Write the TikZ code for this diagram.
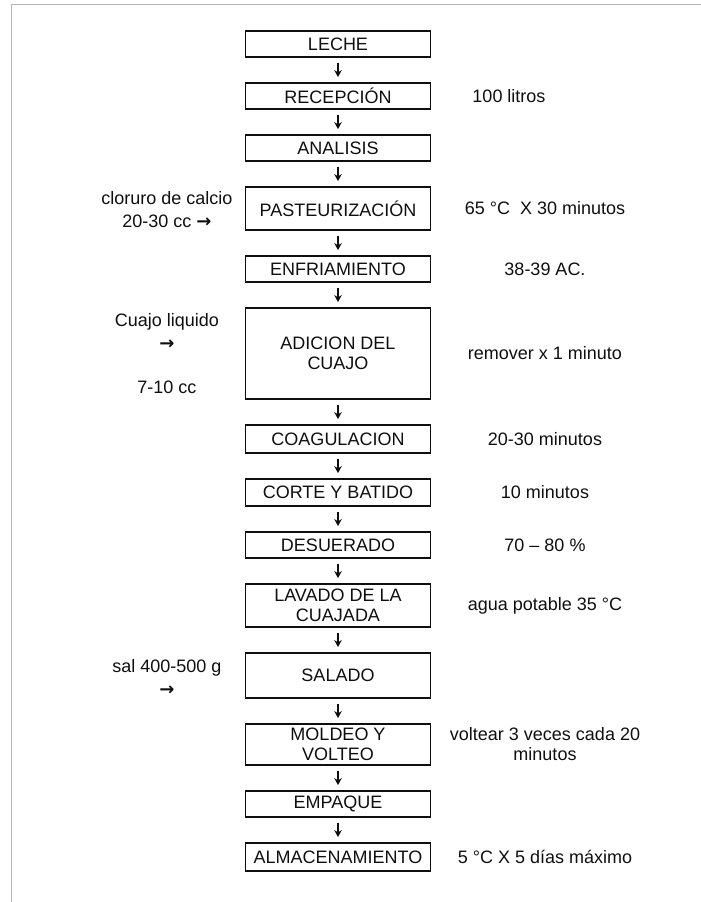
\documentclass[tikz,border=0pt]{standalone}
\usepackage{fontspec}
\usepackage{tikz}
\usepackage{xcolor}
\setmainfont{Liberation Sans}
\newfontfamily\arrowfont{DejaVu Sans Bold}
\usetikzlibrary{positioning,arrows.meta}
\definecolor{flowink}{RGB}{15,15,15}
\definecolor{framegray}{RGB}{182,182,182}

\begin{document}
\begin{tikzpicture}[
      x=1pt, y=-1pt,
      node distance=24.2pt,
      box/.style={draw=flowink, line width=1.8pt, text=flowink, align=center, minimum width=185pt, minimum height=26pt, inner sep=1pt, font=\fontsize{18}{20}\selectfont},
      arrow/.style={-{Stealth[length=7pt,width=7.5pt]}, line width=1.8pt, draw=flowink, shorten <=5pt, shorten >=5pt},
      note/.style={text=flowink, align=center, inner sep=0pt, font=\fontsize{18}{20}\selectfont},
      side/.style={note, font=\fontsize{18}{23}\selectfont}
    ]
      \useasboundingbox (0,0) rectangle (701,902);
      \draw[framegray, line width=1pt] (11.5,902) -- (11.5,4.5) -- (701,4.5);
      \coordinate (rcol) at (545,0);
      \coordinate (rcolb) at (509,0);
      \coordinate (lcol) at (167,0);
      % main column
      \node[box] (leche) at (338,44) {LECHE};
      \node[box, below=of leche] (recep) {RECEPCIÓN};
      \node[box, below=of recep] (anal) {ANALISIS};
      \node[box, minimum height=43pt, below=of anal] (paste) {PASTEURIZACIÓN};
      \node[box, below=of paste] (enfri) {ENFRIAMIENTO};
      \node[box, minimum height=91pt, below=of enfri] (cuajo) {ADICION DEL\\CUAJO};
      \node[box, minimum height=28pt, below=of cuajo] (coag) {COAGULACION};
      \node[box, minimum height=27pt, below=of coag] (corte) {CORTE Y BATIDO};
      \node[box, below=of corte] (desue) {DESUERADO};
      \node[box, minimum height=43pt, below=of desue] (lavad) {LAVADO DE LA\\CUAJADA};
      \node[box, minimum height=45pt, below=of lavad] (salad) {SALADO};
      \node[box, minimum height=41pt, below=of salad] (molde) {MOLDEO Y\\VOLTEO};
      \node[box, below=of molde] (empaq) {EMPAQUE};
      \node[box, minimum height=28pt, below=of empaq] (almac) {ALMACENAMIENTO};
      \draw[arrow] (leche) -- (recep);
      \draw[arrow] (recep) -- (anal);
      \draw[arrow] (anal) -- (paste);
      \draw[arrow] (paste) -- (enfri);
      \draw[arrow] (enfri) -- (cuajo);
      \draw[arrow] (cuajo) -- (coag);
      \draw[arrow] (coag) -- (corte);
      \draw[arrow] (corte) -- (desue);
      \draw[arrow] (desue) -- (lavad);
      \draw[arrow] (lavad) -- (salad);
      \draw[arrow] (salad) -- (molde);
      \draw[arrow] (molde) -- (empaq);
      \draw[arrow] (empaq) -- (almac);
      % conditions
      \node[note] (nlitro) at (recep -| rcolb) {100 litros};
      \node[note] (npaste) at (paste -| rcol) {65 °C~ X 30 minutos};
      \node[note] (nenfri) at (enfri -| rcol) {38-39 AC.};
      \node[note] (ncuajo) at (cuajo -| rcol) {remover x 1 minuto};
      \node[note] (ncoag) at (coag -| rcol) {20-30 minutos};
      \node[note] (ncorte) at (corte -| rcol) {10 minutos};
      \node[note] (ndesue) at (desue -| rcol) {70 – 80 \%};
      \node[note] (nlavad) at (lavad -| rcol) {agua potable 35 °C};
      \node[note] (nmolde) at (molde -| rcol) {voltear 3 veces cada 20\\minutos};
      \node[note] (nalmac) at (almac -| rcol) {5 °C X 5 días máximo};
      % inputs
      \node[side, yshift=-1pt] (icalc) at (paste -| lcol) {cloruro de calcio\\20-30 cc {\arrowfont →}};
      \node[side] (icuajo) at (cuajo -| lcol) {Cuajo liquido\\{\arrowfont →}\\[21pt]7-10 cc};
      \node[side, yshift=-2pt] (isal) at (salad -| lcol) {sal 400-500 g\\{\arrowfont →}};
    \end{tikzpicture}
\end{document}
